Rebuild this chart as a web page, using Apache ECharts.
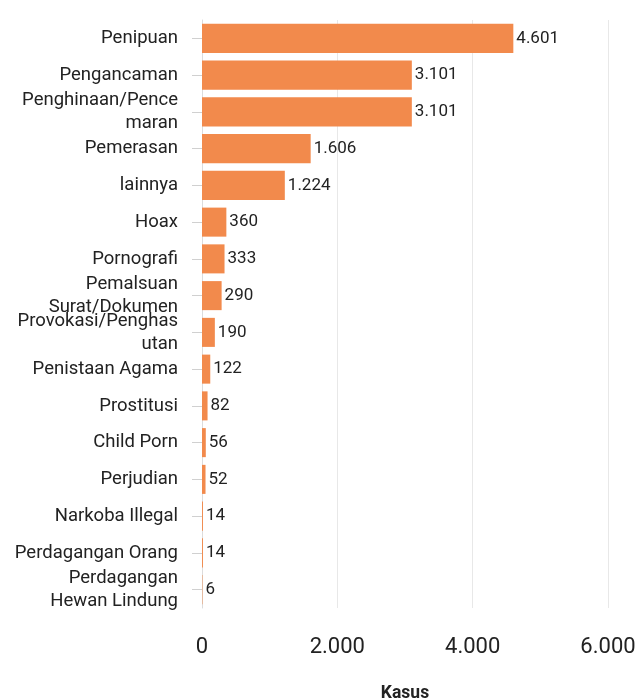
<!DOCTYPE html>
<html>
<head>
<meta charset="utf-8">
<script src="https://cdn.jsdelivr.net/npm/echarts@6/dist/echarts.min.js"></script>
<style>
  html, body { margin: 0; padding: 0; background: #fff; }
  #chart { width: 637px; height: 700px; }
</style>
</head>
<body>
<div id="chart"></div>
<script>
// Kasus per kategori kejahatan siber
const categories = [
  'Penipuan', 'Pengancaman', 'Penghinaan/Pencemaran', 'Pemerasan', 'lainnya',
  'Hoax', 'Pornografi', 'Pemalsuan Surat/Dokumen', 'Provokasi/Penghasutan',
  'Penistaan Agama', 'Prostitusi', 'Child Porn', 'Perjudian', 'Narkoba Illegal',
  'Perdagangan Orang', 'Perdagangan Hewan Lindung'
];
const kasus = [4601, 3101, 3101, 1606, 1224, 360, 333, 290, 190, 122, 82, 56, 52, 14, 14, 6];
const xTicks = [0, 2000, 4000, 6000];

const fmt = v => String(v).replace(/\B(?=(\d{3})+(?!\d))/g, '.');
const FONT = 'Roboto';
const LABEL_SIZE = 18.5;
const LABEL_WIDTH = 166;

// Word wrap for category labels: break on spaces, split over-long words by character
const ctx = document.createElement('canvas').getContext('2d');
ctx.font = LABEL_SIZE + 'px ' + FONT;
function wrap(text) {
  const lines = [];
  let cur = '';
  for (const word of text.split(' ')) {
    const trial = cur ? cur + ' ' + word : word;
    if (ctx.measureText(trial).width <= LABEL_WIDTH) { cur = trial; continue; }
    if (cur) { lines.push(cur); cur = ''; }
    let piece = '';
    for (const ch of word) {
      if (ctx.measureText(piece + ch).width > LABEL_WIDTH && piece) { lines.push(piece); piece = ch; }
      else piece += ch;
    }
    cur = piece;
  }
  if (cur) lines.push(cur);
  return lines.join('\n');
}

const chart = echarts.init(document.getElementById('chart'), null, { renderer: 'canvas' });
chart.setOption({
  animation: false,
  textStyle: { fontFamily: FONT },
  grid: { left: 202, right: 29, top: 20, bottom: 92, containLabel: false, outerBoundsMode: 'none' },
  xAxis: {
    type: 'value',
    min: xTicks[0],
    max: xTicks[xTicks.length - 1],
    interval: 2000,
    name: 'Kasus',
    nameLocation: 'middle',
    nameGap: 77,
    nameTextStyle: { fontFamily: FONT, fontSize: 17.5, fontWeight: 'bold', color: '#222' },
    axisLine: { show: false },
    axisTick: { show: false },
    axisLabel: { fontFamily: FONT, fontSize: 22, color: '#222', margin: 28, formatter: fmt },
    splitLine: { show: true, lineStyle: { color: '#e8e8e8', width: 1 } }
  },
  yAxis: {
    type: 'category',
    data: categories,
    inverse: true,
    axisLine: { show: true, lineStyle: { color: '#dcdcdc', width: 1 } },
    axisTick: { show: true, alignWithLabel: true, length: 10, lineStyle: { color: '#d0d0d0' } },
    axisLabel: {
      fontFamily: FONT, fontSize: LABEL_SIZE, color: '#222', margin: 24,
      lineHeight: 23, formatter: wrap
    }
  },
  series: [{
    type: 'bar',
    data: kasus,
    barCategoryGap: '21%',
    itemStyle: { color: '#F28A4C' },
    label: {
      show: true, position: 'right', distance: 3,
      fontFamily: FONT, fontSize: 17, color: '#222',
      formatter: p => fmt(p.value)
    }
  }]
});
</script>
</body>
</html>
